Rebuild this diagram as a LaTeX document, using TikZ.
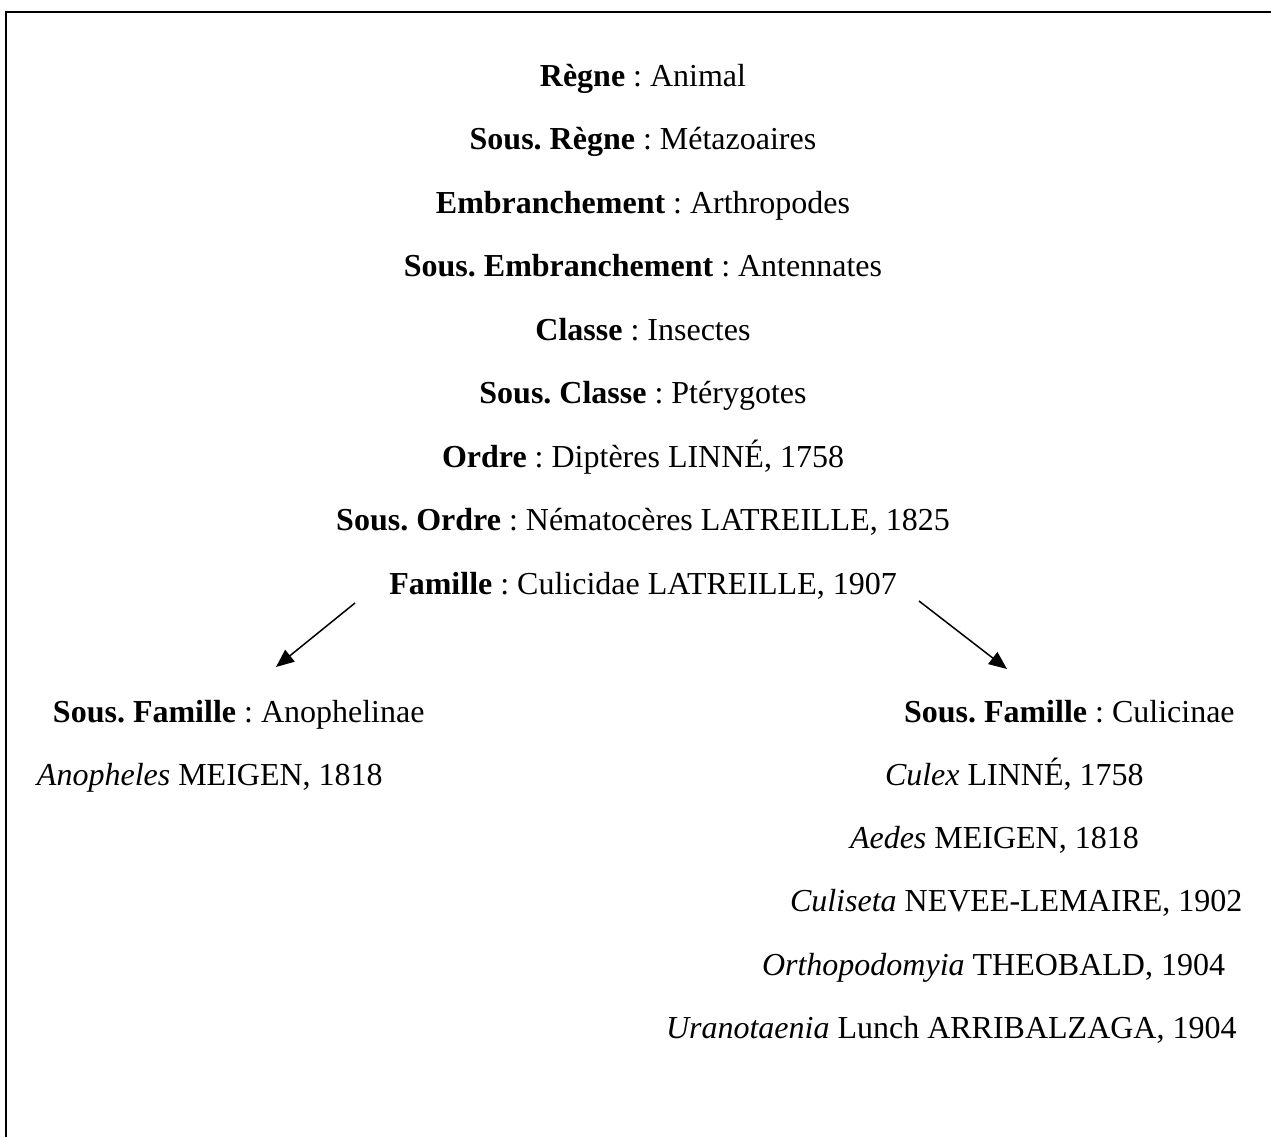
\documentclass[tikz,border=0pt]{standalone}
\usepackage{fontspec}
\setmainfont{Liberation Serif}
\usetikzlibrary{arrows.meta}
\frenchspacing
\begin{document}
\begin{tikzpicture}[x=0.5pt,y=-0.5pt,
  txt/.style={inner sep=0pt,outer sep=0pt,font=\fontsize{16}{19}\selectfont},
  ctr/.style={txt,anchor=base},
  lft/.style={txt,anchor=base west},
  link/.style={line width=0.75pt,-{Triangle[length=9pt,width=7.5pt]}},
  frame/.style={line width=1pt}]
\useasboundingbox (0,0) rectangle (1271,1137);
\draw[frame] (6,1137) -- (6,12) -- (1271,12);
\node[ctr] (regne) at (643,86) {\textbf{Règne} : Animal};
\node[ctr] (sregne) at (643,149.5) {\textbf{Sous. Règne} : Métazoaires};
\node[ctr] (embr) at (643,213) {\textbf{Embranchement} : Arthropodes};
\node[ctr] (sembr) at (643,276.5) {\textbf{Sous. Embranchement} : Antennates};
\node[ctr] (classe) at (643,340) {\textbf{Classe} : Insectes};
\node[ctr] (sclasse) at (643,403.5) {\textbf{Sous. Classe} : Ptérygotes};
\node[ctr] (ordre) at (643,467) {\textbf{Ordre} : Diptères LINNÉ, 1758};
\node[ctr] (sordre) at (643,530.5) {\textbf{Sous. Ordre} : Nématocères LATREILLE, 1825};
\node[ctr] (famille) at (643,594) {\textbf{Famille} : Culicidae LATREILLE, 1907};
\node[lft] (anoph) at (53,722) {\textbf{Sous. Famille} : Anophelinae};
\node[lft] (anopheles) at (37,785) {\textit{Anopheles} MEIGEN, 1818};
\node[lft] (culic) at (904,722) {\textbf{Sous. Famille} : Culicinae};
\node[lft] (culex) at (885,785) {\textit{Culex} LINNÉ, 1758};
\node[lft] (aedes) at (850,848) {\textit{Aedes} MEIGEN, 1818};
\node[lft] (culiseta) at (790,911) {\textit{Culiseta} NEVEE-LEMAIRE, 1902};
\node[lft] (ortho) at (762,975) {\textit{Orthopodomyia} THEOBALD, 1904};
\node[lft] (urano) at (666,1038) {\textit{Uranotaenia} Lunch ARRIBALZAGA, 1904};
\coordinate (l1) at (355,603);
\coordinate (l2) at (276,667);
\coordinate (r1) at (919,601);
\coordinate (r2) at (1007,669);
\draw[link] (l1) -- (l2);
\draw[link] (r1) -- (r2);
\end{tikzpicture}
\end{document}
